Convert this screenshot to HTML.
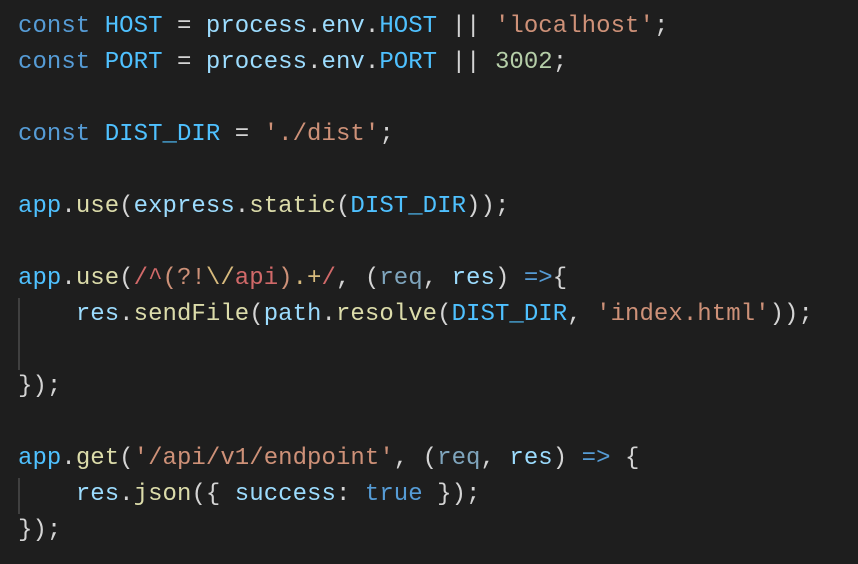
<!DOCTYPE html>
<html><head><style>
html,body{margin:0;padding:0;background:#1e1e1e;width:858px;height:564px;overflow:hidden}
pre{margin:0;position:absolute;left:18px;top:9px;font-family:"Liberation Mono",monospace;font-size:24px;line-height:36px;color:#d4d4d4;letter-spacing:0.05px}
.k{color:#569cd6}.c{color:#4fc1ff}.s{color:#ce9178}.n{color:#b5cea8}.f{color:#dcdcaa}.v{color:#9cdcfe}.r{color:#d16969}.g{color:#d7ba7d}.d{color:#7fa5bd}
.guide{position:absolute;left:18px;width:2px;background:#404040}
</style></head><body>
<div class="guide" style="top:298px;height:72px"></div>
<div class="guide" style="top:478px;height:36px"></div>
<pre><span class="k">const</span> <span class="c">HOST</span> = <span class="v">process</span>.<span class="v">env</span>.<span class="c">HOST</span> || <span class="s">'localhost'</span>;
<span class="k">const</span> <span class="c">PORT</span> = <span class="v">process</span>.<span class="v">env</span>.<span class="c">PORT</span> || <span class="n">3002</span>;

<span class="k">const</span> <span class="c">DIST_DIR</span> = <span class="s">'./dist'</span>;

<span class="c">app</span>.<span class="f">use</span>(<span class="v">express</span>.<span class="f">static</span>(<span class="c">DIST_DIR</span>));

<span class="c">app</span>.<span class="f">use</span>(<span class="r">/^</span><span class="s">(?!</span><span class="g">\/</span><span class="r">api</span><span class="s">)</span><span class="g">.+</span><span class="r">/</span>, (<span class="d">req</span>, <span class="v">res</span>) <span class="k">=&gt;</span>{
    <span class="v">res</span>.<span class="f">sendFile</span>(<span class="v">path</span>.<span class="f">resolve</span>(<span class="c">DIST_DIR</span>, <span class="s">'index.html'</span>));

});

<span class="c">app</span>.<span class="f">get</span>(<span class="s">'/api/v1/endpoint'</span>, (<span class="d">req</span>, <span class="v">res</span>) <span class="k">=&gt;</span> {
    <span class="v">res</span>.<span class="f">json</span>({ <span class="v">success</span>: <span class="k">true</span> });
});</pre>
</body></html>
